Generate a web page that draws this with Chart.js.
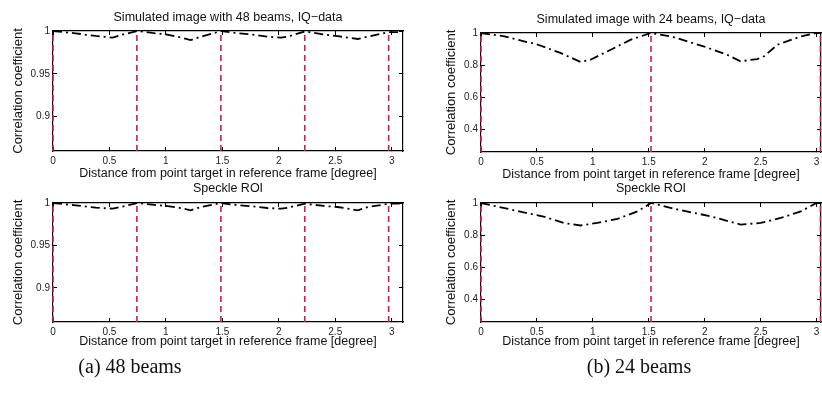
<!DOCTYPE html>
<html>
<head>
<meta charset="utf-8">
<script src="https://cdn.jsdelivr.net/npm/chart.js@4"></script>
<style>
  html, body { margin: 0; padding: 0; background: #fff; }
  body { width: 822px; height: 394px; position: relative; overflow: hidden; }
  canvas { position: absolute; }
  .caption {
    position: absolute; width: 200px; text-align: center;
    font-family: "Liberation Serif", serif; font-size: 20px; color: #111;
  }
</style>
</head>
<body>
<!-- canvases are wider than their column so the title sits centred over the plot -->
<canvas id="iq48" width="456" height="186" style="left:0;top:0"></canvas>
<canvas id="iq24" width="480" height="186" style="left:411px;top:0"></canvas>
<canvas id="sp48" width="456" height="176" style="left:0;top:180px"></canvas>
<canvas id="sp24" width="480" height="176" style="left:411px;top:180px"></canvas>
<div class="caption" style="left:30px;top:355px">(a) 48 beams</div>
<div class="caption" style="left:539px;top:355px">(b) 24 beams</div>

<script>
// x positions (degree)
const x48 = [0, 0.2, 0.38, 0.53, 0.6, 0.75, 0.88, 1.0, 1.13, 1.22, 1.31, 1.49, 1.6, 1.77, 1.9, 2.02, 2.08, 2.23, 2.4, 2.52, 2.7, 2.79, 2.98, 3.1];
const iq48 = [1.0, 0.9973, 0.9942, 0.9922, 0.9953, 1.0, 0.9977, 0.996, 0.9926, 0.9895, 0.9934, 1.0, 0.998, 0.9957, 0.9934, 0.9922, 0.9934, 0.9995, 0.996, 0.994, 0.9907, 0.9934, 0.9988, 0.9988];
const speckle48 = [1.0, 0.9973, 0.9945, 0.9933, 0.9953, 1.0, 0.998, 0.9965, 0.9941, 0.9914, 0.9953, 1.0, 0.998, 0.9961, 0.9941, 0.9933, 0.9945, 0.9992, 0.9965, 0.9953, 0.9914, 0.9953, 0.9992, 0.9992];

const xIq24 = [0, 0.21, 0.51, 0.71, 0.89, 0.98, 1.16, 1.34, 1.52, 1.7, 1.99, 2.2, 2.32, 2.47, 2.53, 2.65, 2.86, 3.0, 3.04];
const iq24 = [1.0, 0.979, 0.927, 0.876, 0.82, 0.834, 0.896, 0.959, 1.0, 0.979, 0.917, 0.865, 0.824, 0.838, 0.855, 0.927, 0.979, 1.0, 1.0];
const xSp24 = [0, 0.27, 0.57, 0.74, 0.89, 1.04, 1.22, 1.4, 1.52, 1.76, 2.05, 2.32, 2.5, 2.68, 2.86, 3.0, 3.04];
const speckle24 = [1.0, 0.959, 0.913, 0.876, 0.86, 0.876, 0.901, 0.948, 1.0, 0.959, 0.918, 0.866, 0.876, 0.907, 0.948, 1.0, 1.0];

// beam positions (vertical dashed lines)
const beamLines48 = [0, 0.743, 1.487, 2.23, 2.973];
const beamLines24 = [0, 1.52, 3.035];

// axis ticks
const xTicks = [0, 0.5, 1, 1.5, 2, 2.5, 3];
const yTicks48 = [0.9, 0.95, 1];
const yTicks24 = [0.4, 0.6, 0.8, 1];

const FONT = '"Liberation Sans", Arial, sans-serif';
const LINE_RED = '#cc1c55';
const xLabel = 'Distance from point target in reference frame [degree]';
const yLabel = 'Correlation coefficient';

function axis(position, min, max, tickValues, fit, title) {
    const isX = position === 'bottom' || position === 'top';
    const labelled = position === 'bottom' || position === 'left';
    return {
        type: 'linear',
        position: position,
        min: min,
        max: max,
        afterBuildTicks: s => { s.ticks = tickValues.map(v => ({ value: v })); },
        afterFit: s => { if (isX) s.height = fit.size; else s.width = fit.size; },
        grid: { drawOnChartArea: false, drawTicks: true, tickLength: -4, color: '#000', tickWidth: 1 },
        border: { display: true, color: '#000', width: 1.2 },
        ticks: {
            display: labelled,
            padding: isX ? 8 : 7,
            color: '#222',
            font: { family: FONT, size: 10 },
            callback: v => String(+v)
        },
        title: title ? {
            display: true,
            text: title,
            color: '#111',
            font: { family: FONT, size: isX ? 12.5 : 13 },
            padding: fit.titlePad
        } : { display: false }
    };
}

function makeChart(id, p) {
    const datasets = [{
        data: p.x.map((x, i) => ({ x: x, y: p.y[i] })),
        borderColor: '#000',
        borderWidth: 1.8,
        borderDash: [9, 4, 2, 4],
        pointRadius: 0,
        order: 0
    }];
    p.lines.forEach(b => {
        datasets.push({
            data: [{ x: b, y: p.yMin }, { x: b, y: p.yMax }],
            borderColor: LINE_RED,
            borderWidth: 1.6,
            borderDash: [6, 4],
            pointRadius: 0,
            clip: false,
            order: 1
        });
    });

    return new Chart(document.getElementById(id), {
        type: 'line',
        data: { datasets: datasets },
        options: {
            responsive: false,
            animation: false,
            layout: { autoPadding: false, padding: 0 },
            plugins: {
                legend: { display: false },
                tooltip: { enabled: false },
                title: {
                    display: true,
                    text: p.title,
                    color: '#111',
                    font: { family: FONT, size: 12.5, weight: 'normal' },
                    padding: p.titlePad
                }
            },
            scales: {
                x: axis('bottom', 0, p.xMax, xTicks, p.xFit, xLabel),
                x2: axis('top', 0, p.xMax, xTicks, { size: 0 }),
                y: axis('left', p.yMin, p.yMax, p.yTicks, p.yFit, yLabel),
                y2: axis('right', p.yMin, p.yMax, p.yTicks, { size: p.yFit.size })
            }
        }
    });
}

makeChart('iq48', {
    title: 'Simulated image with 48 beams, IQ\u2212data',
    x: x48, y: iq48, lines: beamLines48,
    xMax: 3.1, yMin: 0.86, yMax: 1, yTicks: yTicks48,
    titlePad: { top: 10.5, bottom: 5.5 },
    xFit: { size: 35, titlePad: { top: 0, bottom: 4.5 } },
    yFit: { size: 53, titlePad: { top: 10.2, bottom: 0 } }
});

makeChart('iq24', {
    title: 'Simulated image with 24 beams, IQ\u2212data',
    x: xIq24, y: iq24, lines: beamLines24,
    xMax: 3.04, yMin: 0.26, yMax: 1, yTicks: yTicks24,
    titlePad: { top: 12.5, bottom: 5.5 },
    xFit: { size: 34, titlePad: { top: 0, bottom: 3.5 } },
    yFit: { size: 70, titlePad: { top: 32.2, bottom: 0 } }
});

makeChart('sp48', {
    title: 'Speckle ROI',
    x: x48, y: speckle48, lines: beamLines48,
    xMax: 3.1, yMin: 0.86, yMax: 1, yTicks: yTicks48,
    titlePad: { top: 1.5, bottom: 6.5 },
    xFit: { size: 34, titlePad: { top: 0, bottom: 6.5 } },
    yFit: { size: 53, titlePad: { top: 10.2, bottom: 0 } }
});

makeChart('sp24', {
    title: 'Speckle ROI',
    x: xSp24, y: speckle24, lines: beamLines24,
    xMax: 3.04, yMin: 0.26, yMax: 1, yTicks: yTicks24,
    titlePad: { top: 1.5, bottom: 6.5 },
    xFit: { size: 34, titlePad: { top: 0, bottom: 6.5 } },
    yFit: { size: 70, titlePad: { top: 32.2, bottom: 0 } }
});
</script>
</body>
</html>
